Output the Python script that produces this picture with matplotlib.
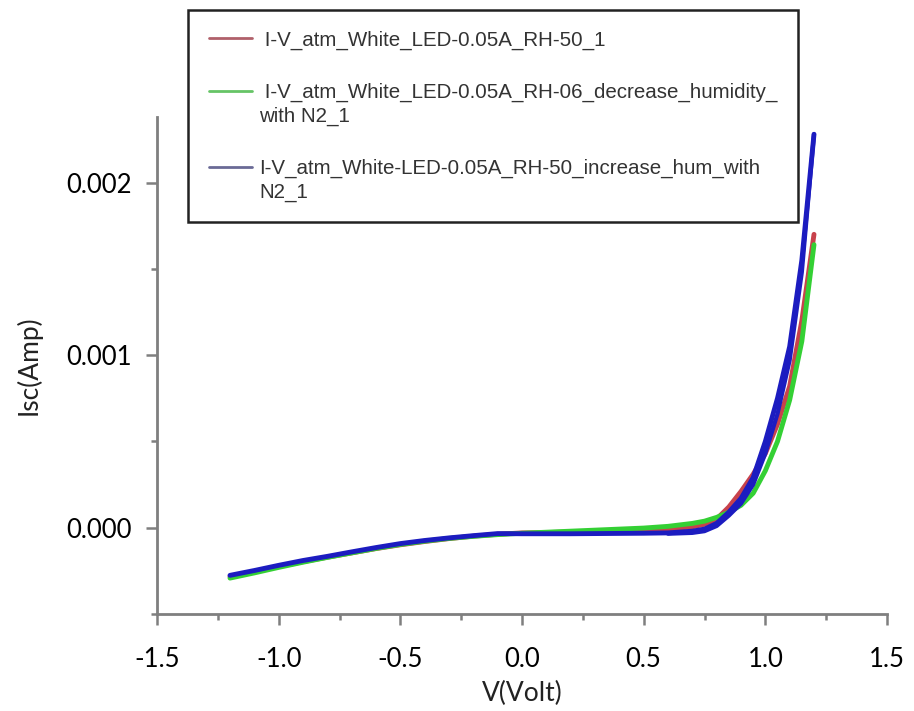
import matplotlib
matplotlib.use("Agg")

import numpy as np
import matplotlib.pyplot as plt
from matplotlib.ticker import MultipleLocator, FormatStrFormatter
from matplotlib.legend_handler import HandlerLine2D

# ---------------------------
# DATA
# ---------------------------

V = [-1.2, -1.1, -1.0, -0.9, -0.8, -0.7, -0.6, -0.5, -0.4, -0.3, -0.2, -0.1,
     0.0, 0.1, 0.2, 0.3, 0.4, 0.5, 0.6, 0.7, 0.75, 0.8, 0.85, 0.9, 0.95,
     1.0, 1.05, 1.1, 1.15, 1.2]

I_rh50 = [-0.000283, -0.000255, -0.000225, -0.000197, -0.000171, -0.000146,
          -0.000121, -0.000099, -0.000080, -0.000063, -0.000049, -0.000038,
          -0.000030, -0.000028, -0.000025, -0.000022, -0.000018, -0.000014,
          -0.000008, 0.000005, 0.00002, 0.00005, 0.00012, 0.00021, 0.00031,
          0.00043, 0.00060, 0.00082, 0.00120, 0.00170]

I_rh06 = [-0.000292, -0.000262, -0.000230, -0.000200, -0.000172, -0.000146,
          -0.000120, -0.000097, -0.000078, -0.000062, -0.000050, -0.000040,
          -0.000032, -0.000026, -0.000020, -0.000014, -0.000008, -0.000002,
          0.000008, 0.000025, 0.000038, 0.00006, 0.00009, 0.00013, 0.00020,
          0.00033, 0.00050, 0.00074, 0.00108, 0.00164]

I_rh50_inc = [-0.000276, -0.000248, -0.000218, -0.000190, -0.000166, -0.000140,
              -0.000115, -0.000092, -0.000074, -0.000059, -0.000046, -0.000034,
              -0.000035, -0.000035, -0.000035, -0.000034, -0.000033, -0.000032,
              -0.000030, -0.000020, -0.000008, 0.000025, 0.00009, 0.00017, 0.00029,
              0.00050, 0.00075, 0.00105, 0.00155, 0.00228]

# return sweep of the blue curve
V_ret = [1.2, 1.15, 1.1, 1.05, 1.0, 0.95, 0.9, 0.85, 0.8, 0.75, 0.7, 0.6]
I_rh50_inc_ret = [0.00228, 0.00148, 0.00097, 0.00066, 0.00043, 0.00025,
                  0.00014, 0.00007, 0.00001, -0.00002, -0.00003, -0.000035]

LABELS = [
    " I-V_atm_White_LED-0.05A_RH-50_1",
    " I-V_atm_White_LED-0.05A_RH-06_decrease_humidity_\nwith N2_1",
    "I-V_atm_White-LED-0.05A_RH-50_increase_hum_with\nN2_1",
]

RED = "#c8424c"
GREEN = "#34d034"
BLUE = "#1c1cc0"
LEG_COLORS = ["#b0606a", "#66c466", "#6a6a96"]
AXIS_GRAY = "#7f7f7f"

LEG_SIZE = 14.8
LEG_LINESPACING = 1.3


class FirstLineHandler(HandlerLine2D):
    # put the handle on the first text line of a multi-line label
    def __init__(self, shift=0.0, **kw):
        super().__init__(**kw)
        self.shift = shift

    def create_artists(self, legend, orig_handle, xdescent, ydescent,
                       width, height, fontsize, trans):
        artists = super().create_artists(legend, orig_handle, xdescent, ydescent,
                                         width, height, fontsize, trans)
        for a in artists:
            a.set_ydata(np.asarray(a.get_ydata()) + self.shift)
        return artists


# ---------------------------
# PLOT
# ---------------------------

fig = plt.figure(figsize=(9.14, 7.11), dpi=100)
ax = fig.add_axes([157 / 914, 1 - 614 / 711, 730 / 914, 497 / 711])

l1, = ax.plot(V, I_rh50, color=RED, lw=3.5, solid_capstyle="round")
l2, = ax.plot(V, I_rh06, color=GREEN, lw=3.5, solid_capstyle="round")
l3, = ax.plot(V, I_rh50_inc, color=BLUE, lw=3.5, solid_capstyle="round")
ax.plot(V_ret, I_rh50_inc_ret, color=BLUE, lw=3, solid_capstyle="round")

ax.set_xlim(-1.5, 1.5)
ax.set_ylim(-0.0005, 0.00238)

ax.xaxis.set_major_locator(MultipleLocator(0.5))
ax.xaxis.set_minor_locator(MultipleLocator(0.25))
ax.xaxis.set_major_formatter(FormatStrFormatter("%.1f"))
ax.yaxis.set_major_locator(MultipleLocator(0.001))
ax.yaxis.set_minor_locator(MultipleLocator(0.0005))
ax.yaxis.set_major_formatter(FormatStrFormatter("%.3f"))

for s in ["top", "right"]:
    ax.spines[s].set_visible(False)
for s in ["left", "bottom"]:
    ax.spines[s].set_color(AXIS_GRAY)
    ax.spines[s].set_linewidth(2)

ax.tick_params(which="major", direction="out", length=8, width=1.8,
               color=AXIS_GRAY, labelsize=18.5)
ax.tick_params(which="minor", direction="out", length=4, width=1.8,
               color=AXIS_GRAY)
ax.tick_params(axis="x", which="major", pad=16)
ax.tick_params(axis="y", which="major", pad=10)
for t in ax.get_xticklabels() + ax.get_yticklabels():
    t.set_family("Lato")

ax.set_xlabel("V(Volt)", fontsize=19, family="Lato", color="#222222", labelpad=6)
ax.set_ylabel("Isc(Amp)", fontsize=19, family="Lato", color="#222222", labelpad=18)

shift = LEG_SIZE * LEG_LINESPACING / 2
leg = ax.legend(
    [l1, l2, l3], LABELS,
    loc="upper left",
    bbox_to_anchor=(188 / 914, 1 - 10 / 711),
    bbox_transform=fig.transFigure,
    borderaxespad=0,
    fancybox=False,
    framealpha=1,
    edgecolor="#222222",
    prop={"family": "Liberation Sans", "size": LEG_SIZE},
    handlelength=2.1,
    handletextpad=0.35,
    labelspacing=1.6,
    borderpad=1.0,
    handler_map={l1: FirstLineHandler(0.0),
                 l2: FirstLineHandler(shift),
                 l3: FirstLineHandler(shift)},
)
leg.get_frame().set_linewidth(1.8)
for h, c in zip(leg.legend_handles, LEG_COLORS):
    h.set_linewidth(2)
    h.set_color(c)
for t in leg.get_texts():
    t.set_linespacing(LEG_LINESPACING)
    t.set_color("#333333")

fig.savefig("out.png", dpi=100)
